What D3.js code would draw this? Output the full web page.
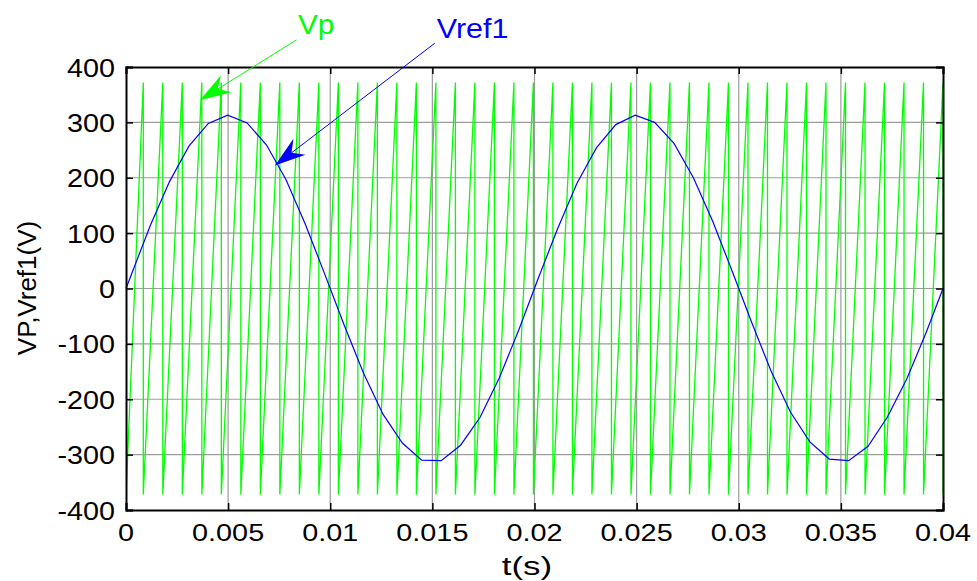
<!DOCTYPE html>
<html>
<head>
<meta charset="utf-8">
<script src="https://cdn.jsdelivr.net/npm/d3@7"></script>
<style>
  body { margin: 0; background: #fff; }
  text { font-family: "Liberation Sans", Arial, sans-serif; }
</style>
</head>
<body>
<svg id="chart" width="977" height="581"></svg>
<script>
// tick values
const xTicks = [0, 0.005, 0.01, 0.015, 0.02, 0.025, 0.03, 0.035, 0.04];
const xTickLabels = ['0', '0.005', '0.01', '0.015', '0.02', '0.025', '0.03', '0.035', '0.04'];
const yTicks = [-400, -300, -200, -100, 0, 100, 200, 300, 400];

// Vp carrier: ramps from low to high, drops back at each reset time
const vpHigh = 372;
const vpLow = -372;
const vpResetTimes = [
  0.000847, 0.001802, 0.002757, 0.003712, 0.004667, 0.005622, 0.006577, 0.007532,
  0.008487, 0.009442, 0.010397, 0.011352, 0.012307, 0.013262, 0.014217, 0.015172,
  0.016127, 0.017082, 0.018037, 0.018992, 0.019947, 0.020902, 0.021857, 0.022812,
  0.023767, 0.024722, 0.025677, 0.026632, 0.027587, 0.028542, 0.029497, 0.030452,
  0.031407, 0.032362, 0.033317, 0.034272, 0.035227, 0.036182, 0.037137, 0.038092,
  0.039047, 0.04
];

// Vref1 samples
const vrefTimes = [
  0, 0.00023, 0.00118, 0.00213, 0.00308, 0.00403, 0.00498, 0.00593, 0.00688, 0.00783,
  0.00878, 0.00973, 0.01068, 0.01163, 0.01258, 0.01353, 0.01448, 0.01543, 0.01638,
  0.01733, 0.01828, 0.01923, 0.02018, 0.02113, 0.02208, 0.02303, 0.02398, 0.02493,
  0.02588, 0.02683, 0.02778, 0.02873, 0.02968, 0.03063, 0.03158, 0.03253, 0.03348,
  0.03443, 0.03538, 0.03633, 0.03728, 0.03823, 0.03918, 0.04
];
const vrefValues = [
  0, 22, 113, 193, 257, 298, 313, 299, 259, 197,
  116, 26, -66, -153, -227, -279, -310, -311, -283,
  -233, -161, -75, 18, 108, 190, 254, 296, 313,
  300, 262, 200, 121, 31, -61, -149, -223, -277,
  -308, -311, -285, -232, -163, -79, 0
];

// annotations (data coords): label anchor, arrow tail, arrow tip
const vpLabelPos = [0.00842, 460];
const vpArrow = [[0.00835, 449], [0.00362, 340]];
const vrefLabelPos = [0.01521, 452];
const vrefArrow = [[0.01512, 443], [0.00729, 222]];

const svg = d3.select('#chart');
const width = +svg.attr('width');
const height = +svg.attr('height');
const margin = { top: 67, right: 34, bottom: 71, left: 126 };
const innerWidth = width - margin.left - margin.right;
const innerHeight = height - margin.top - margin.bottom;

const x = d3.scaleLinear().domain([0, 0.04]).range([0, innerWidth]);
const y = d3.scaleLinear().domain([-400, 400]).range([innerHeight, 0]);

svg.append('rect').attr('width', width).attr('height', height).attr('fill', '#fff');

const g = svg.append('g')
    .attr('transform', `translate(${margin.left},${margin.top})`);

g.append('clipPath').attr('id', 'clip')
  .append('rect').attr('x', 0).attr('y', 0)
  .attr('width', innerWidth).attr('height', innerHeight);

// widen text horizontally, like the exported figure
function widen(sel, k) {
  sel.each(function() {
    const w = this.getComputedTextLength();
    d3.select(this).attr('textLength', w * k).attr('lengthAdjust', 'spacingAndGlyphs');
  });
}

// grid
g.append('g').selectAll('line')
  .data(xTicks.slice(1, -1))
  .join('line')
    .attr('x1', d => x(d)).attr('x2', d => x(d))
    .attr('y1', 0).attr('y2', innerHeight)
    .attr('stroke', '#9c9c9c').attr('stroke-width', 1.2);

g.append('g').selectAll('line')
  .data(yTicks.slice(1, -1))
  .join('line')
    .attr('y1', d => y(d)).attr('y2', d => y(d))
    .attr('x1', 0).attr('x2', innerWidth)
    .attr('stroke', '#9c9c9c').attr('stroke-width', 1.2);

// Vp sawtooth
const vpPoints = [[0, vpLow]];
vpResetTimes.forEach(t => {
  vpPoints.push([t, vpHigh]);
  vpPoints.push([t, vpLow]);
});

const line = d3.line()
    .x(d => x(d[0]))
    .y(d => y(d[1]));

g.append('path')
    .datum(vpPoints)
    .attr('clip-path', 'url(#clip)')
    .attr('fill', 'none')
    .attr('stroke', '#00ff00')
    .attr('stroke-width', 1.3)
    .attr('d', line);

// Vref1
g.append('path')
    .datum(vrefTimes.map((t, i) => [t, vrefValues[i]]))
    .attr('fill', 'none')
    .attr('stroke', '#0000ff')
    .attr('stroke-width', 1.2)
    .attr('d', line);

// axes box with inward ticks on all sides
const xAxisB = d3.axisBottom(x).tickValues(xTicks).tickSize(-7);
const xAxisT = d3.axisTop(x).tickValues(xTicks).tickSize(-7);
const yAxisL = d3.axisLeft(y).tickValues(yTicks).tickSize(-7);
const yAxisR = d3.axisRight(y).tickValues(yTicks).tickSize(-7);

[[xAxisB, `translate(0,${innerHeight})`], [xAxisT, 'translate(0,0)'],
 [yAxisL, 'translate(0,0)'], [yAxisR, `translate(${innerWidth},0)`]].forEach(([ax, tr]) => {
  const a = g.append('g').attr('transform', tr).call(ax);
  a.select('.domain').attr('stroke', '#000').attr('stroke-width', 2);
  a.selectAll('.tick line').attr('stroke', '#000').attr('stroke-width', 1.5);
  a.selectAll('.tick text').remove();
});

// tick labels
g.append('g').selectAll('text')
  .data(xTicks)
  .join('text')
    .attr('x', d => x(d))
    .attr('y', innerHeight + 31)
    .attr('text-anchor', 'middle')
    .attr('font-size', 24)
    .attr('fill', '#000')
    .text((d, i) => xTickLabels[i])
    .call(widen, 1.2);

g.append('g').selectAll('text')
  .data(yTicks)
  .join('text')
    .attr('x', -11)
    .attr('y', d => y(d) + 9.5)
    .attr('text-anchor', 'end')
    .attr('font-size', 25)
    .attr('fill', '#000')
    .text(d => d)
    .call(widen, 1.15);

// axis titles
svg.append('text')
    .attr('x', 527).attr('y', 575)
    .attr('text-anchor', 'middle')
    .attr('font-size', 25)
    .attr('fill', '#000')
    .text('t(s)')
    .call(widen, 1.4);

svg.append('text')
    .attr('transform', `translate(36,288) rotate(-90)`)
    .attr('text-anchor', 'middle')
    .attr('font-size', 26)
    .attr('fill', '#000')
    .text('VP,Vref1(V)');

// annotation arrows
function arrow(tail, tip, color) {
  const x0 = x(tail[0]), y0 = y(tail[1]);
  const x1 = x(tip[0]), y1 = y(tip[1]);
  const len = Math.hypot(x1 - x0, y1 - y0);
  const ux = (x1 - x0) / len, uy = (y1 - y0) / len;
  const nx = -uy, ny = ux;
  const L = 31, W = 10, N = 21;
  const notch = [x1 - ux * N, y1 - uy * N];
  g.append('line')
      .attr('x1', x0).attr('y1', y0)
      .attr('x2', notch[0]).attr('y2', notch[1])
      .attr('stroke', color).attr('stroke-width', 1);
  const head = [
    [x1, y1],
    [x1 - ux * L + nx * W, y1 - uy * L + ny * W],
    notch,
    [x1 - ux * L - nx * W, y1 - uy * L - ny * W]
  ];
  g.append('path')
      .attr('d', 'M' + head.map(p => p.join(',')).join('L') + 'Z')
      .attr('fill', color);
}

arrow(vpArrow[0], vpArrow[1], '#00ff00');
arrow(vrefArrow[0], vrefArrow[1], '#0000ff');

g.append('text')
    .attr('x', x(vpLabelPos[0])).attr('y', y(vpLabelPos[1]))
    .attr('font-size', 27)
    .attr('fill', '#00ff00')
    .text('Vp')
    .call(widen, 1.1);

g.append('text')
    .attr('x', x(vrefLabelPos[0])).attr('y', y(vrefLabelPos[1]))
    .attr('font-size', 28)
    .attr('fill', '#0000ff')
    .text('Vref1')
    .call(widen, 1.09);
</script>
</body>
</html>
